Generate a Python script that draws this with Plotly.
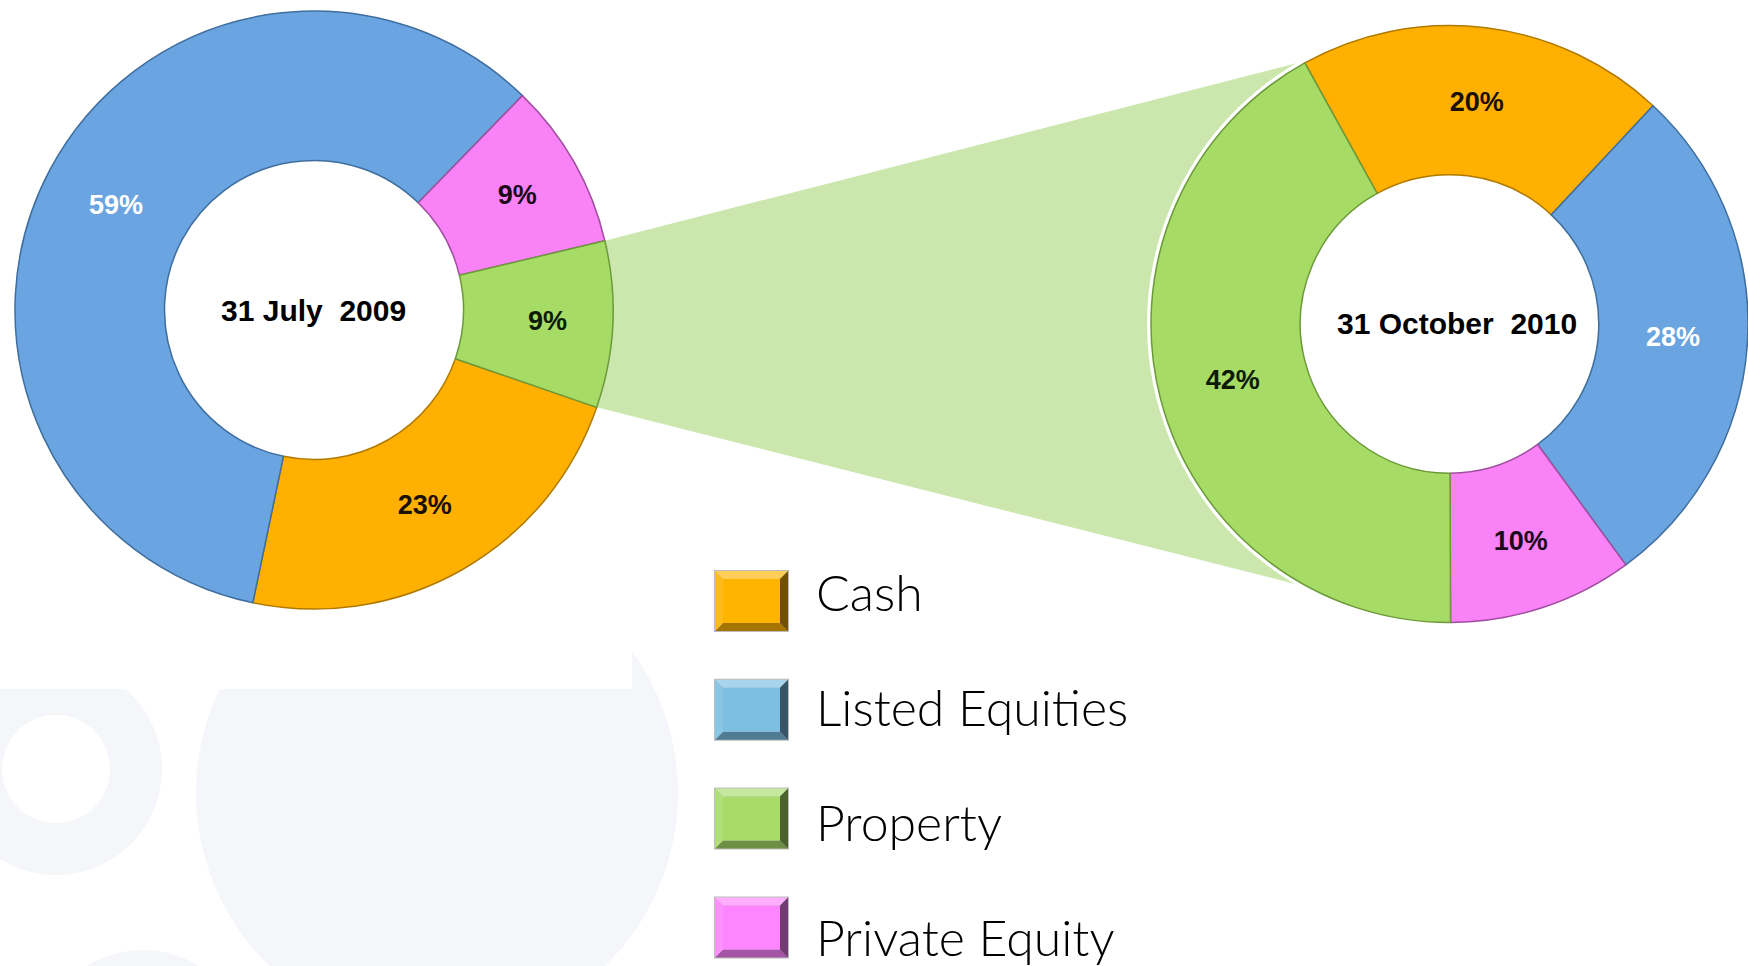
import math
import plotly.graph_objects as go

# ---------------- data ----------------
categories = ["Cash", "Listed Equities", "Property", "Private Equity"]
values_2009 = [23, 59, 9, 9]
values_2010 = [20, 28, 42, 10]
dates = ["31 July\u00a0 2009", "31 October\u00a0 2010"]

# ---------------- styles ----------------
W, H = 1748, 966
OFF = 0  # body margin removed by post_script below
slice_colors = {"Cash": "#FFB000", "Listed Equities": "#6AA5E1",
                "Property": "#A6DB66", "Private Equity": "#FA82F7"}
edge_colors = {"Cash": "#B07A00", "Listed Equities": "#3F6E9E",
               "Property": "#6C9A3A", "Private Equity": "#A04FA0"}
legend_colors = {"Cash": "#FFB400", "Listed Equities": "#7CBFE3",
                 "Property": "#A8DC6A", "Private Equity": "#FF84FF"}
label_colors = {"Cash": "#1a1008", "Listed Equities": "white",
                "Property": "#0d1a05", "Private Equity": "#1a0a1a"}
slice_order = ["Cash", "Listed Equities", "Private Equity", "Property"]  # clockwise


def fx(x):
    return (x - OFF) / W


def fy(y):
    return 1 - (y - OFF) / H


def shade(hexc, f):
    hexc = hexc.lstrip("#")
    r, g, b = int(hexc[0:2], 16), int(hexc[2:4], 16), int(hexc[4:6], 16)
    if f >= 0:
        r, g, b = [int(c + (255 - c) * f) for c in (r, g, b)]
    else:
        r, g, b = [int(c * (1 + f)) for c in (r, g, b)]
    return "#%02x%02x%02x" % (r, g, b)


pies = [
    dict(values=values_2009, rotation=109, cx=314, cy=310, R=299,
         domain=dict(x=[fx(15), fx(613)], y=[fy(609), fy(11)]), label=dates[0], lx=313),
    dict(values=values_2010, rotation=-29, cx=1449.5, cy=324, R=298.5,
         domain=dict(x=[fx(1151), 1.0], y=[fy(622.5), fy(25.5)]), label=dates[1], lx=1457),
]

fig = go.Figure()
for p in pies:
    vals = [p["values"][categories.index(c)] for c in slice_order]
    fig.add_trace(go.Pie(
        labels=slice_order, values=vals, sort=False, direction="clockwise",
        rotation=p["rotation"], hole=0.5, domain=p["domain"],
        marker=dict(colors=[slice_colors[c] for c in slice_order],
                    line=dict(color=[edge_colors[c] for c in slice_order], width=1.5)),
        texttemplate="<b>%{value}%</b>", textposition="inside",
        insidetextorientation="horizontal",
        textfont=dict(family="Liberation Sans", size=27,
                      color=[label_colors[c] for c in slice_order]),
        hoverinfo="label+percent", showlegend=False,
    ))

shapes = []
gray = "#F5F6FA"
# background decoration
shapes.append(dict(type="circle", xref="paper", yref="paper", layer="below",
                   x0=fx(437 - 241), x1=fx(437 + 241), y0=fy(793 + 241), y1=fy(793 - 241),
                   fillcolor=gray, line=dict(width=0)))
for (cx, cy) in [(56, 769), (143, 1056)]:
    shapes.append(dict(type="circle", xref="paper", yref="paper", layer="below",
                       x0=fx(cx - 106), x1=fx(cx + 106), y0=fy(cy + 106), y1=fy(cy - 106),
                       fillcolor=gray, line=dict(width=0)))
    shapes.append(dict(type="circle", xref="paper", yref="paper", layer="below",
                       x0=fx(cx - 54), x1=fx(cx + 54), y0=fy(cy + 54), y1=fy(cy - 54),
                       fillcolor="white", line=dict(width=0)))
shapes.append(dict(type="rect", xref="paper", yref="paper", layer="below",
                   x0=fx(-20), x1=fx(632), y0=fy(689), y1=fy(-20), fillcolor="white",
                   line=dict(width=0)))

# connector from the 2009 Property slice to the 2010 ring
p0 = pies[0]
vals0 = [p0["values"][categories.index(c)] for c in slice_order]
start = p0["rotation"] + 3.6 * sum(vals0[:slice_order.index("Property")])
end = start + 3.6 * vals0[slice_order.index("Property")]


def pt(p, ang, r):
    a = math.radians(ang)
    return p["cx"] + r * math.sin(a), p["cy"] - r * math.cos(a)


a1 = pt(p0, start, p0["R"] - 1)
a2 = pt(p0, end, p0["R"] - 1)
p1 = pies[1]
b1 = (1317, 58)
b2 = (1319, 590)
path = "M {} {} L {} {} L {} {} L {} {} Z".format(
    fx(a1[0]), fy(a1[1]), fx(b1[0]), fy(b1[1]), fx(b2[0]), fy(b2[1]), fx(a2[0]), fy(a2[1]))
shapes.append(dict(type="path", xref="paper", yref="paper", layer="below", path=path,
                   fillcolor="#CBE7AE", line=dict(width=0)))
# white rim behind the 2010 ring
rr = p1["R"] + 4
shapes.append(dict(type="circle", xref="paper", yref="paper", layer="below",
                   x0=fx(p1["cx"] - rr), x1=fx(p1["cx"] + rr),
                   y0=fy(p1["cy"] + rr), y1=fy(p1["cy"] - rr),
                   fillcolor="white", line=dict(width=0)))


def poly(pts, color):
    d = "M " + " L ".join("{} {}".format(fx(x), fy(y)) for x, y in pts) + " Z"
    return dict(type="path", xref="paper", yref="paper", layer="above", path=d,
                fillcolor=color, line=dict(width=0))


annotations = []
# legend
x0, x1, bw = 715, 788, 8
for i, c in enumerate(categories):
    top = 571 + i * 108.8
    bot = top + 60
    col = legend_colors[c]
    shapes.append(dict(type="rect", xref="paper", yref="paper", layer="above",
                       x0=fx(x0 - 1), x1=fx(x1 + 1), y0=fy(bot + 1), y1=fy(top - 1),
                       fillcolor="#BDBDBD", line=dict(width=0)))
    shapes.append(poly([(x0, top), (x1, top), (x1 - bw, top + bw), (x0 + bw, top + bw)], shade(col, 0.35)))
    shapes.append(poly([(x0, bot), (x1, bot), (x1 - bw, bot - bw), (x0 + bw, bot - bw)], shade(col, -0.35)))
    shapes.append(poly([(x0, top), (x0 + bw, top + bw), (x0 + bw, bot - bw), (x0, bot)], shade(col, 0.1)))
    shapes.append(poly([(x1, top), (x1 - bw, top + bw), (x1 - bw, bot - bw), (x1, bot)], shade(col, -0.55)))
    shapes.append(dict(type="rect", xref="paper", yref="paper", layer="above",
                       x0=fx(x0 + bw), x1=fx(x1 - bw), y0=fy(bot - bw), y1=fy(top + bw),
                       fillcolor=col, line=dict(width=0)))
    annotations.append(dict(text=c, x=fx(814), y=fy(592 + i * 115), xref="paper", yref="paper",
                            xanchor="left", yanchor="middle", showarrow=False,
                            font=dict(family="Lato", size=50, color="black", weight=300)))

for p in pies:
    annotations.append(dict(text="<b>" + p["label"] + "</b>", x=fx(p["lx"]), y=fy(p["cy"]),
                            xref="paper", yref="paper", showarrow=False,
                            xanchor="center", yanchor="middle",
                            font=dict(family="Liberation Sans", size=30, color="black")))

fig.update_layout(width=W, height=H, margin=dict(l=0, r=0, t=0, b=0),
                  paper_bgcolor="white", plot_bgcolor="white",
                  shapes=shapes, annotations=annotations, showlegend=False)
fig.write_html("out.html", config={"displayModeBar": False},
               post_script="document.body.style.margin='0px';")
